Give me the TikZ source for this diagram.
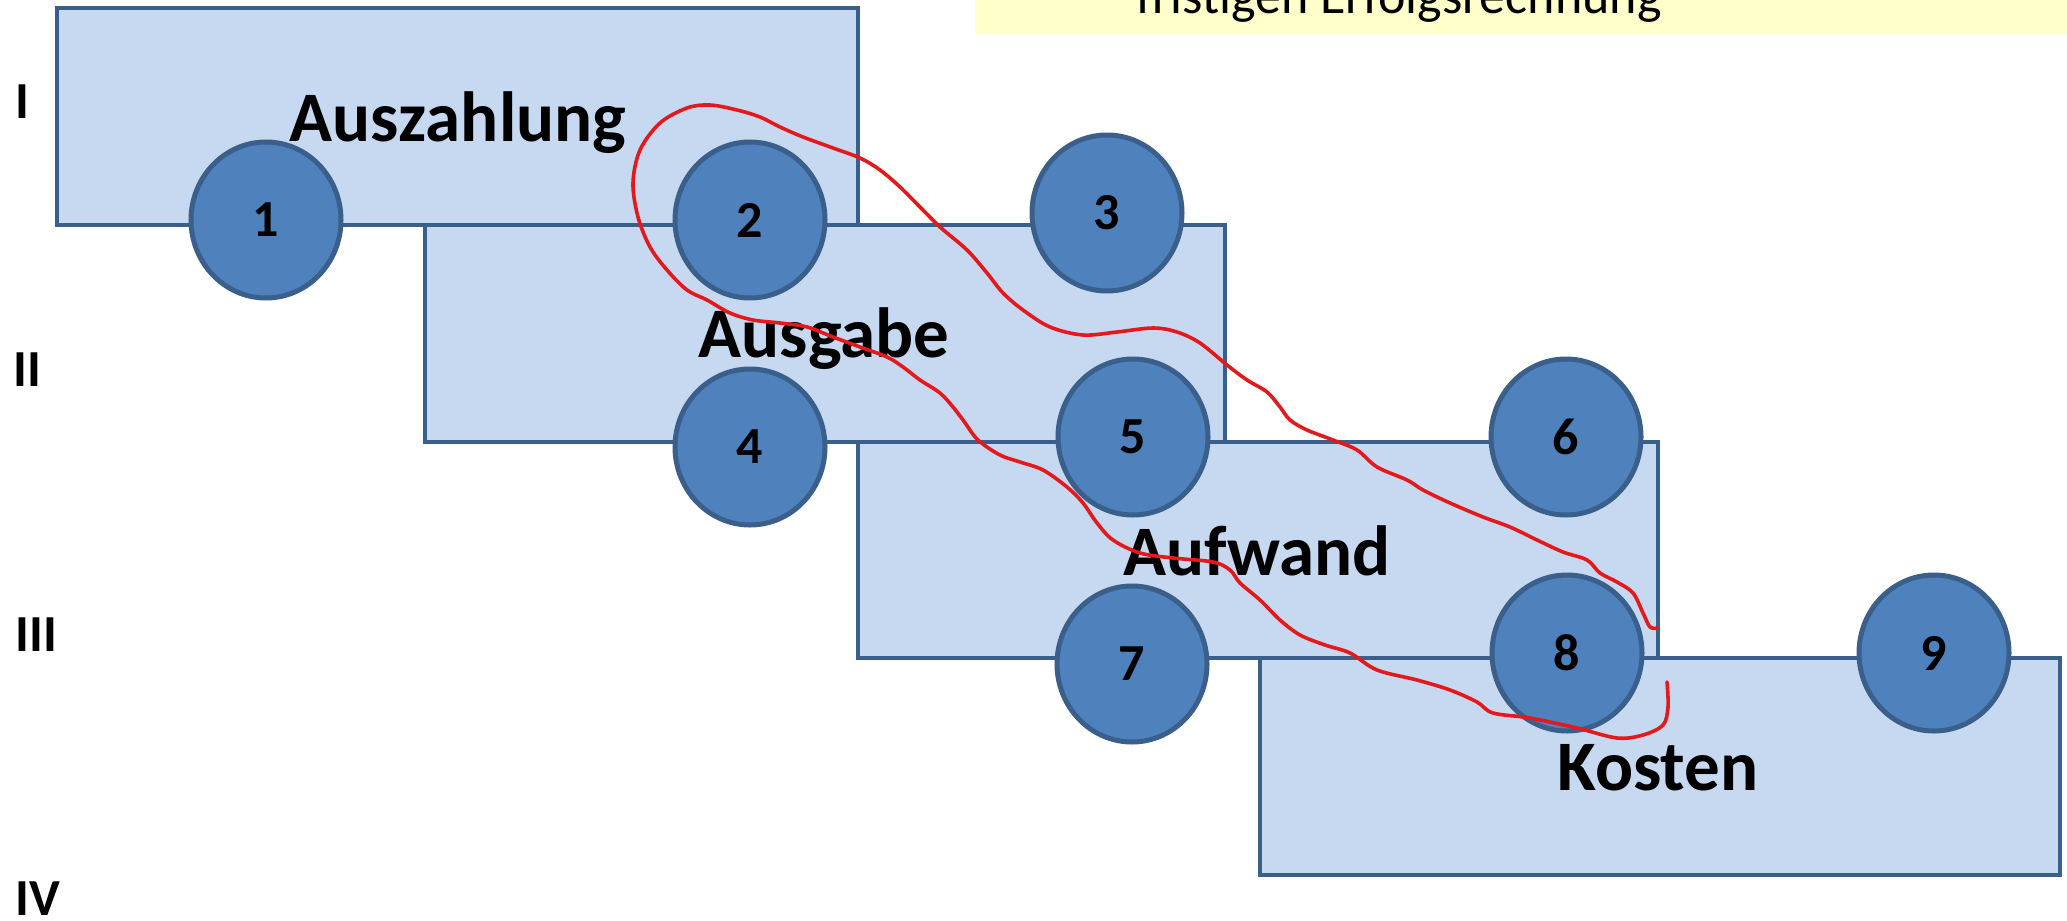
\documentclass[tikz,border=0pt]{standalone}
\usepackage{fontspec}
\setmainfont{Carlito}
\usetikzlibrary{shapes.geometric}
\definecolor{boxfill}{HTML}{C6D9F1}
\definecolor{boxline}{HTML}{3A5F8B}
\definecolor{circfill}{HTML}{4F81BD}
\definecolor{noteyellow}{HTML}{FFFFCC}
\definecolor{penred}{HTML}{E3191C}
\begin{document}
\begin{tikzpicture}[x=0.5pt,y=-0.5pt,
  box/.style={draw=boxline, fill=boxfill, line width=2pt},
  circ/.style={ellipse, draw=boxline, fill=circfill, line width=2.5pt,
    minimum width=75pt, minimum height=78pt, inner sep=0pt,
    font=\fontsize{26}{30}\selectfont\bfseries},
  boxlabel/.style={anchor=base, inner sep=0pt, font=\fontsize{35.5}{42}\selectfont\bfseries},
  roman/.style={anchor=base west, inner sep=0pt, font=\fontsize{26}{30}\selectfont\bfseries},
  penline/.style={draw=penred, line width=1.8pt, line join=round, line cap=round}
]
\useasboundingbox (0,0) rectangle (2067,921);
\clip (0,0) rectangle (2067,921);

% yellow note (cut off at top)
\fill[noteyellow] (975,-10) rectangle (2080,34);
\node[anchor=base, inner sep=0pt, font=\fontsize{26}{30}\selectfont] (note) at (1399,13) {fristigen Erfolgsrechnung};

% boxes
\draw[box] (57,8) rectangle (858,225);
\draw[box] (425,225) rectangle (1225,442);
\draw[box] (858,442) rectangle (1658,658);
\draw[box] (1260,658) rectangle (2060,875);

% box labels
\node[boxlabel] (l1) at (458,141) {Auszahlung};
\node[boxlabel] (l2) at (824,357) {Ausgabe};
\node[boxlabel] (l3) at (1257,575) {Aufwand};
\node[boxlabel] (l4) at (1658,790) {Kosten};

% roman numerals
\node[roman] (r1) at (15,118) {I};
\node[roman] (r2) at (13,386) {II};
\node[roman] (r3) at (15,651) {III};
\node[roman] (r4) at (15,915) {IV};

% circles
\node[circ] (c1) at (266,220) {1};
\node[circ] (c2) at (750,220) {2};
\node[circ] (c3) at (1107,213) {3};
\node[circ] (c4) at (750,447) {4};
\node[circ] (c5) at (1133,437) {5};
\node[circ] (c6) at (1566,437) {6};
\node[circ] (c7) at (1132,664) {7};
\node[circ] (c8) at (1567,653) {8};
\node[circ] (c9) at (1934,653) {9};

% freehand red loop
\draw[penline] plot[smooth, tension=0.55] coordinates {
(1658,628) (1650,627) (1643,613) (1633,593) (1617,582) (1600,573) (1587,560)
(1563,552) (1537,540) (1510,527) (1483,517) (1450,503) (1423,490) (1407,480)
(1377,467) (1357,450) (1333,440) (1307,430) (1290,420) (1280,407) (1267,392)
(1247,380) (1227,365) (1200,343) (1177,332) (1153,328) (1117,332) (1083,335)
(1050,327) (1023,310) (1003,293) (987,273) (967,250) (940,227) (920,207)
(900,187) (880,170) (860,158) (833,148) (803,137) (780,127) (760,117)
(737,110) (710,105) (687,108) (660,123) (640,150) (633,183) (638,217)
(650,247) (667,270) (687,290) (707,300) (730,313) (753,320) (780,323)
(807,327) (833,337) (860,347) (887,357) (903,367) (920,380) (940,393)
(953,407) (963,420) (978,440) (1000,455) (1020,462) (1043,470) (1067,487)
(1083,503) (1097,523) (1113,540) (1140,553) (1173,558) (1213,562) (1230,570)
(1240,583) (1260,600) (1280,620) (1300,635) (1325,645) (1350,653) (1377,670)
(1417,680) (1450,690) (1477,702) (1493,713) (1530,718) (1577,728) (1617,738)
(1643,735) (1663,725) (1668,707) (1667,682)};
\end{tikzpicture}
\end{document}
